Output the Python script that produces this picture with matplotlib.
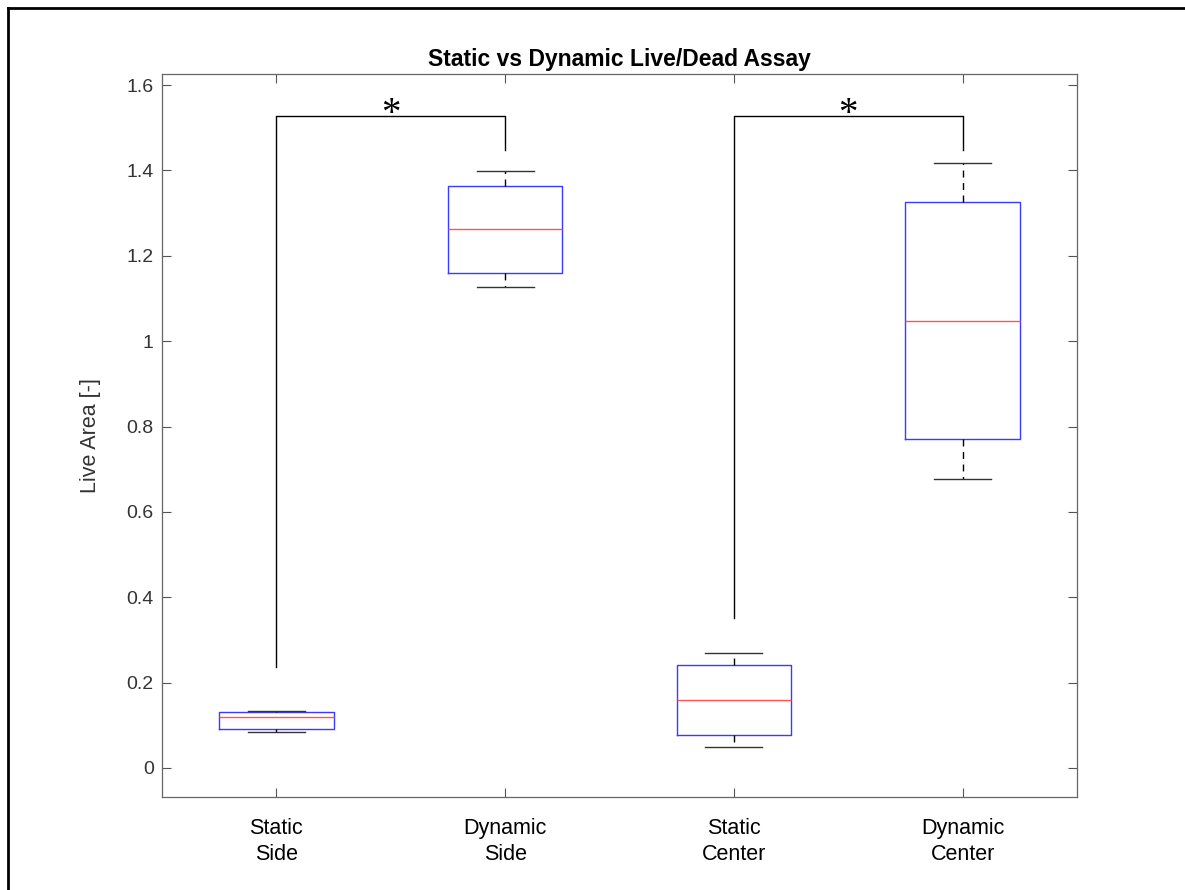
import matplotlib
matplotlib.use("Agg")
import matplotlib.pyplot as plt
from matplotlib.lines import Line2D

# Box statistics
groups = ["Static\nSide", "Dynamic\nSide", "Static\nCenter", "Dynamic\nCenter"]
medians = [0.119, 1.262, 0.160, 1.047]
q1 = [0.092, 1.160, 0.077, 0.771]
q3 = [0.130, 1.363, 0.241, 1.325]
whisk_lo = [0.084, 1.127, 0.049, 0.678]
whisk_hi = [0.133, 1.398, 0.269, 1.417]

# Significance brackets: (group a, group b, start height a, top, end height b)
brackets = [(1, 2, 0.237, 1.527, 1.449), (3, 4, 0.351, 1.527, 1.449)]
sig_label = "*"

plt.rcParams["font.family"] = ["Liberation Sans", "DejaVu Sans"]

fig = plt.figure(figsize=(11.85, 8.9), dpi=100)
ax = fig.add_axes([0.1367, 0.1045, 0.7722, 0.8124])

stats = []
for name, m, a, b, lo, hi in zip(groups, medians, q1, q3, whisk_lo, whisk_hi):
    stats.append({"label": name, "med": m, "q1": a, "q3": b,
                  "whislo": lo, "whishi": hi, "fliers": []})

ax.bxp(
    stats,
    positions=[1, 2, 3, 4],
    widths=0.5,
    capwidths=0.25,
    showfliers=False,
    boxprops=dict(color="#3b3bff", linewidth=1.0),
    medianprops=dict(color="#ff5555", linewidth=1.0),
    whiskerprops=dict(color="black", linewidth=1.0, linestyle=(0, (5, 4))),
    capprops=dict(color="#333333", linewidth=1.0),
)

for xa, xb, ya, ytop, yb in brackets:
    ax.plot([xa, xa, xb, xb], [ya, ytop, ytop, yb], color="black", lw=1.0)
    # asterisk glyph sits high above the baseline, so anchor it just under the bar
    ax.text((xa + xb) / 2, ytop - 0.018, sig_label, ha="center", va="baseline",
            fontsize=28, family=["Liberation Serif", "DejaVu Serif"])

ax.set_xlim(0.5, 4.5)
ax.set_ylim(-0.068, 1.626)
ax.set_yticks([0, 0.2, 0.4, 0.6, 0.8, 1.0, 1.2, 1.4, 1.6])
ax.set_yticklabels(["0", "0.2", "0.4", "0.6", "0.8", "1", "1.2", "1.4", "1.6"])
ax.set_xticks([1, 2, 3, 4])
ax.set_xticklabels(groups, fontsize=15.5, color="black", linespacing=1.3)

ax.tick_params(axis="both", direction="in", length=6.5, width=0.8,
               color="#555555", top=True, right=True)
ax.tick_params(axis="y", labelsize=14, labelcolor="#333333", pad=6)
ax.tick_params(axis="x", pad=15)
for sp in ax.spines.values():
    sp.set_color("#666666")
    sp.set_linewidth(0.9)

ax.set_ylabel("Live Area [-]", fontsize=15.5, color="#333333", labelpad=18)
ax.set_title("Static vs Dynamic Live/Dead Assay", fontsize=16.5, fontweight="bold", pad=6)

# outer frame (left and top edges only)
fig.add_artist(Line2D([8 / 1185, 8 / 1185], [0, 1 - 8 / 890], transform=fig.transFigure,
                      color="black", lw=2))
fig.add_artist(Line2D([8 / 1185, 1], [1 - 8 / 890, 1 - 8 / 890], transform=fig.transFigure,
                      color="black", lw=2))

fig.savefig("out.png", dpi=100)
